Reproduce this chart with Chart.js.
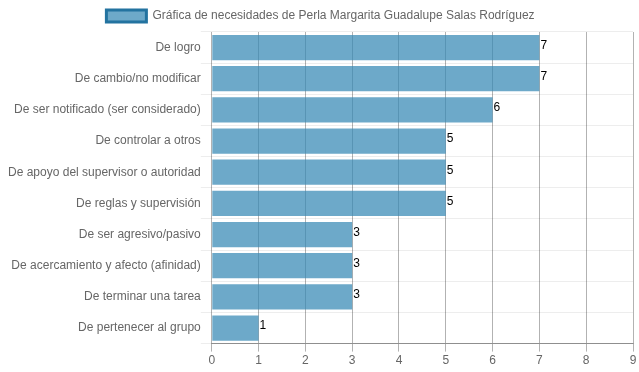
<!DOCTYPE html>
<html>
<head>
<meta charset="utf-8">
<script src="https://cdn.jsdelivr.net/npm/chart.js@4"></script>
<style>
  html, body { margin: 0; padding: 0; background: #fff; }
  #wrap { width: 639px; height: 372px; }
</style>
</head>
<body>
<div id="wrap"><canvas id="chartNecesidades"></canvas></div>
<script>
// Datos
const serieNombre = 'Gráfica de necesidades de Perla Margarita Guadalupe Salas Rodríguez';
const categorias = [
    'De logro',
    'De cambio/no modificar',
    'De ser notificado (ser considerado)',
    'De controlar a otros',
    'De apoyo del supervisor o autoridad',
    'De reglas y supervisión',
    'De ser agresivo/pasivo',
    'De acercamiento y afecto (afinidad)',
    'De terminar una tarea',
    'De pertenecer al grupo'
];
const valores = [7, 7, 6, 5, 5, 5, 3, 3, 3, 1];
const ejeMin = 0;
const ejeMax = 9;

Chart.defaults.font.family = 'Helvetica, Arial, "Liberation Sans", sans-serif';
Chart.defaults.font.size = 12;
Chart.defaults.color = '#666666';

// Etiqueta con el valor al final de cada barra
const etiquetasValor = {
    id: 'etiquetasValor',
    afterDatasetsDraw(chart) {
        const ctx = chart.ctx;
        const meta = chart.getDatasetMeta(0);
        ctx.save();
        ctx.fillStyle = '#000';
        ctx.font = '12px ' + Chart.defaults.font.family;
        ctx.textAlign = 'left';
        ctx.textBaseline = 'middle';
        meta.data.forEach((bar, i) => {
            ctx.fillText(valores[i], bar.x + 1, bar.y - 2);
        });
        ctx.restore();
    }
};

new Chart(document.getElementById('chartNecesidades'), {
    type: 'bar',
    data: {
        labels: categorias,
        datasets: [{
            label: serieNombre,
            data: valores,
            backgroundColor: 'rgba(52, 136, 180, 0.72)',
            borderColor: 'rgba(35, 115, 160, 1)',
            borderWidth: 3,
            borderSkipped: true,
            barPercentage: 0.9,
            categoryPercentage: 0.9
        }]
    },
    options: {
        indexAxis: 'y',
        responsive: true,
        maintainAspectRatio: false,
        animation: false,
        layout: { padding: { left: 8, right: 6, bottom: 2 } },
        plugins: {
            legend: {
                labels: { boxWidth: 40, boxHeight: 12, padding: 10 }
            },
            tooltip: { enabled: false }
        },
        scales: {
            x: {
                min: ejeMin,
                max: ejeMax,
                ticks: { stepSize: 1, padding: 2 },
                grid: { color: 'rgba(0,0,0,0.3)', tickLength: 8 },
                border: { color: 'rgba(0,0,0,0.4)' }
            },
            y: {
                ticks: { padding: 0 },
                grid: { color: 'rgba(0,0,0,0.07)', tickLength: 11 },
                border: { display: false }
            }
        }
    },
    plugins: [etiquetasValor]
});
</script>
</body>
</html>
